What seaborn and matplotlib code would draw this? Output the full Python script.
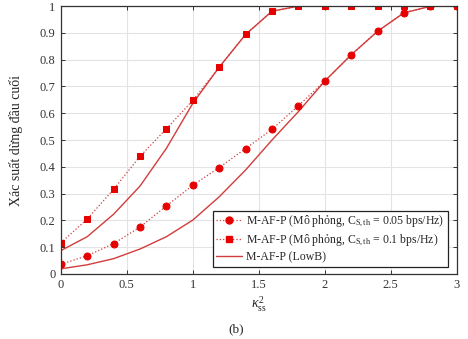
import matplotlib
matplotlib.use("Agg")
import matplotlib.pyplot as plt
import seaborn as sns
import pandas as pd
from matplotlib.lines import Line2D

kappa = [0.0, 0.2, 0.4, 0.6, 0.8, 1.0, 1.2, 1.4, 1.6, 1.8, 2.0, 2.2, 2.4, 2.6, 2.8, 3.0]
sim_005 = [0.036, 0.068, 0.113, 0.175, 0.254, 0.331, 0.397, 0.468, 0.540, 0.628,
           0.720, 0.818, 0.906, 0.975, 0.999, 1.0]
sim_01 = [0.116, 0.205, 0.316, 0.439, 0.542, 0.648, 0.772, 0.894, 0.981, 0.999,
          1.0, 1.0, 1.0, 1.0, 1.0, 1.0]
lowb_005 = [0.019, 0.034, 0.057, 0.093, 0.139, 0.201, 0.288, 0.388, 0.500, 0.606,
            0.720, 0.818, 0.906, 0.975, 0.999, 1.0]
lowb_01 = [0.087, 0.139, 0.223, 0.328, 0.469, 0.637, 0.772, 0.894, 0.981, 1.0,
           1.0, 1.0, 1.0, 1.0, 1.0, 1.0]
labels = [r"M-AF-P (Mô phỏng, C$_{\mathrm{S,th}}$ = 0.05 bps/Hz)",
          r"M-AF-P (Mô phỏng, C$_{\mathrm{S,th}}$ = 0.1 bps/Hz)",
          "M-AF-P (LowB)"]

sns.set_style("ticks")
plt.rcParams["font.family"] = ["Liberation Serif", "DejaVu Serif"]
plt.rcParams["mathtext.fontset"] = "custom"
plt.rcParams["mathtext.rm"] = "Liberation Serif"
plt.rcParams["mathtext.it"] = "Liberation Serif:italic"

df = pd.DataFrame({"k": kappa, "s005": sim_005, "s01": sim_01,
                   "l005": lowb_005, "l01": lowb_01})

mcol = "#e60000"
lcol = "#d23c3c"

fig = plt.figure(figsize=(4.68, 3.39), dpi=100)
ax = fig.add_axes([0.130, 0.192, 0.846, 0.790])

sns.lineplot(data=df, x="k", y="l005", ax=ax, color=lcol, lw=1.0, legend=False)
sns.lineplot(data=df, x="k", y="l01", ax=ax, color=lcol, lw=1.0, legend=False)
sns.lineplot(data=df, x="k", y="s005", ax=ax, color=lcol, lw=0.9, ls=":",
             marker="o", markersize=5, markerfacecolor=mcol, markeredgecolor=mcol,
             legend=False)
sns.lineplot(data=df, x="k", y="s01", ax=ax, color=lcol, lw=0.9, ls=":",
             marker="s", markersize=4, markerfacecolor=mcol, markeredgecolor=mcol,
             legend=False)

ax.set_xlim(0, 3)
ax.set_ylim(0, 1)
ax.set_xticks([0, 0.5, 1, 1.5, 2, 2.5, 3])
ax.set_xticklabels(["0", "0.5", "1", "1.5", "2", "2.5", "3"])
ax.set_yticks([i / 10 for i in range(11)])
ax.set_yticklabels(["0", "0.1", "0.2", "0.3", "0.4", "0.5", "0.6", "0.7", "0.8", "0.9", "1"])
ax.grid(True, color="#e3e3e3", lw=0.8)
ax.set_axisbelow(True)
ax.tick_params(direction="in", length=3, width=0.7, labelsize=9, colors="#333333",
               top=True, right=True, pad=4)
for s in ax.spines.values():
    s.set_linewidth(0.9)
    s.set_color("#333333")

ax.set_xlabel(r"$\kappa^2_{\mathrm{ss}}$", fontsize=10, labelpad=2)
ax.set_ylabel("Xác suất dừng đầu cuối", fontsize=10)
ax.yaxis.set_label_coords(-0.095, 0.5)
fig.text(0.505, 0.012, "(b)", ha="center", va="bottom", fontsize=9.5)

handles = [
    Line2D([], [], color=lcol, ls=":", lw=0.9, marker="o", markersize=5,
           markerfacecolor=mcol, markeredgecolor=mcol),
    Line2D([], [], color=lcol, ls=":", lw=0.9, marker="s", markersize=4,
           markerfacecolor=mcol, markeredgecolor=mcol),
    Line2D([], [], color=lcol, lw=1.0),
]
leg = ax.legend(handles, labels, loc="lower right", bbox_to_anchor=(0.977, 0.026),
                borderaxespad=0, fontsize=8.5, frameon=True, fancybox=False,
                handlelength=2.2, handletextpad=0.3, borderpad=0.3,
                labelspacing=0.3, markerfirst=True)
leg.get_frame().set_edgecolor("#222222")
leg.get_frame().set_linewidth(0.9)
leg.get_frame().set_alpha(1)

fig.savefig("out.png", dpi=100)
